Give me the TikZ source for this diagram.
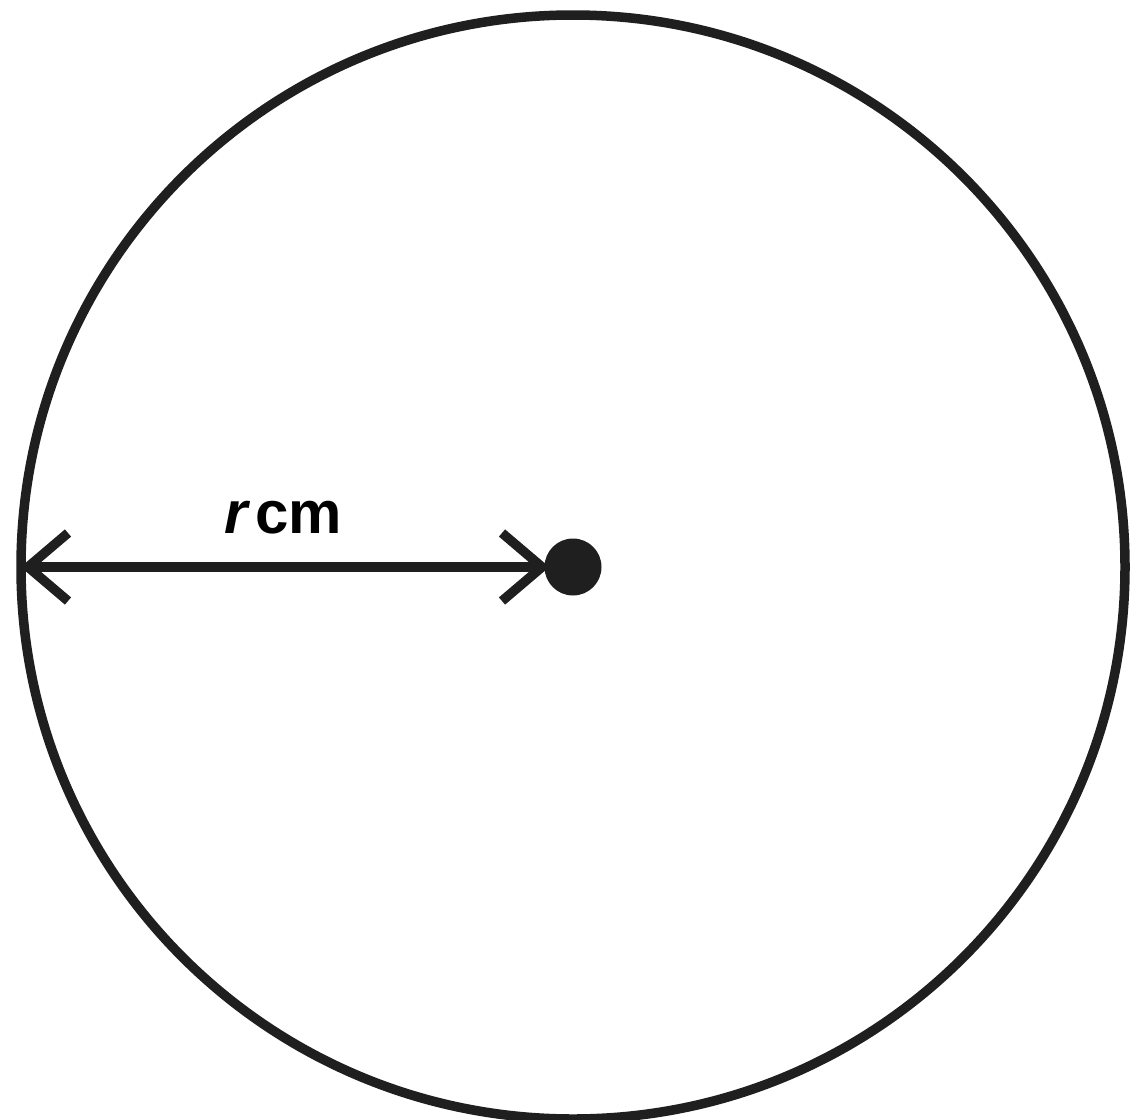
\documentclass[tikz,border=0pt]{standalone}
\usepackage{fontspec}
\setmainfont{Liberation Sans}
\begin{document}
\begin{tikzpicture}[x=1pt,y=-1pt,
  stroke/.style={line width=9.5pt,draw=black!88},
  lbl/.style={font=\fontsize{60}{64}\selectfont\bfseries,inner sep=0pt,anchor=base}]
\useasboundingbox (0,0) rectangle (1132,1119);
\draw[stroke] (573,567) circle (552);
\node[circle,fill=black!88,minimum size=57pt,inner sep=0pt] (c) at (573,567) {};
\coordinate (L) at (28,567);
\coordinate (R) at (542,567);
\draw[stroke] (L) -- (R);
\draw[stroke,line join=miter] (68,533) -- (L) -- (68,601);
\draw[stroke,line join=miter] (502,533) -- (R) -- (502,601);
\node[lbl] (t) at (283,533) {\textit{r}\kern0.08em cm};
\end{tikzpicture}
\end{document}
